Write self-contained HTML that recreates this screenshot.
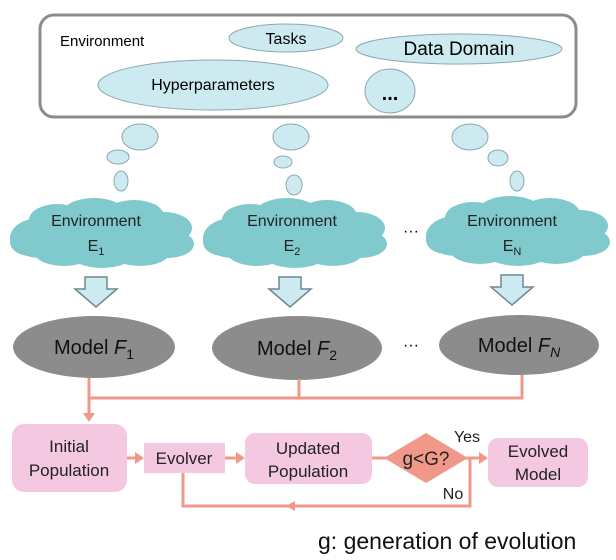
<!DOCTYPE html>
<html><head><meta charset="utf-8"><style>
html,body{margin:0;padding:0;background:#fff;}
svg{display:block;font-family:"Liberation Sans",Arial,sans-serif;}
</style></head><body>
<svg width="616" height="560" viewBox="0 0 616 560" xmlns="http://www.w3.org/2000/svg">
<defs>
<g id="cloud">
<ellipse cx="-62" cy="6" rx="30" ry="20"/>
<ellipse cx="-45" cy="-12" rx="28" ry="16"/>
<ellipse cx="-8" cy="-18" rx="32" ry="16"/>
<ellipse cx="32" cy="-16" rx="30" ry="16"/>
<ellipse cx="62" cy="-4" rx="28" ry="16"/>
<ellipse cx="66" cy="12" rx="26" ry="14"/>
<ellipse cx="38" cy="20" rx="30" ry="14"/>
<ellipse cx="0" cy="22" rx="32" ry="14"/>
<ellipse cx="-38" cy="20" rx="30" ry="14"/>
<ellipse cx="-72" cy="10" rx="20" ry="14"/>
<ellipse cx="0" cy="2" rx="80" ry="24"/>
</g>
</defs>
<rect x="40" y="15" width="536" height="102" rx="14" fill="#fff" stroke="#8c8c8c" stroke-width="3"/>
<text x="60" y="46" font-size="15">Environment</text>
<ellipse cx="286" cy="38" rx="57" ry="14" fill="#cdeaf0" stroke="#8aa8b0"/>
<text x="286" y="44" font-size="16" text-anchor="middle">Tasks</text>
<ellipse cx="459" cy="49" rx="103" ry="15" fill="#cdeaf0" stroke="#8aa8b0"/>
<text x="459" y="55" font-size="19" text-anchor="middle">Data Domain</text>
<ellipse cx="213" cy="85" rx="115" ry="25" fill="#cdeaf0" stroke="#8aa8b0"/>
<text x="213" y="90" font-size="16" text-anchor="middle">Hyperparameters</text>
<ellipse cx="390" cy="91" rx="25" ry="22" fill="#cdeaf0" stroke="#8aa8b0"/>
<text x="390" y="100" font-size="20" font-weight="bold" text-anchor="middle">...</text>
<g fill="#cdeaf0" stroke="#8aa8b0">
<ellipse cx="140" cy="137" rx="18" ry="13"/><ellipse cx="118" cy="157" rx="11" ry="7"/><ellipse cx="121" cy="181" rx="7" ry="10"/>
<ellipse cx="291" cy="137" rx="18" ry="13"/><ellipse cx="283" cy="162" rx="9" ry="6"/><ellipse cx="294" cy="185" rx="8" ry="10"/>
<ellipse cx="470" cy="137" rx="18" ry="13"/><ellipse cx="498" cy="158" rx="10" ry="8"/><ellipse cx="517" cy="181" rx="7" ry="10"/>
</g>
<g fill="#80cacd">
<use href="#cloud" transform="translate(102,232)"/>
<use href="#cloud" transform="translate(295,232)"/>
<use href="#cloud" transform="translate(518,230)"/>
</g>
<g font-size="16" text-anchor="middle" fill="#222">
<text x="96" y="226">Environment</text><text x="96" y="251">E<tspan font-size="11" dy="4">1</tspan></text>
<text x="292" y="226">Environment</text><text x="292" y="251">E<tspan font-size="11" dy="4">2</tspan></text>
<text x="512" y="226">Environment</text><text x="512" y="251">E<tspan font-size="11" dy="4">N</tspan></text>
</g>
<text x="411" y="236" font-size="16" text-anchor="middle">···</text>
<g fill="#cdeaf0" stroke="#6a8a90" stroke-width="1.5">
<path d="M85,277 h22 v12 h10 l-21,18 l-21,-18 h10 z"/>
<path d="M279,277 h22 v12 h10 l-21,18 l-21,-18 h10 z"/>
<path d="M501,275 h22 v12 h10 l-21,18 l-21,-18 h10 z"/>
</g>
<g fill="#8c8c8c">
<ellipse cx="94" cy="347" rx="81" ry="31"/>
<ellipse cx="297" cy="348" rx="85" ry="32"/>
<ellipse cx="519" cy="345" rx="80" ry="30"/>
</g>
<g font-size="20" text-anchor="middle" fill="#111">
<text x="94" y="354">Model <tspan font-style="italic">F</tspan><tspan font-size="14" dy="5">1</tspan></text>
<text x="297" y="355">Model <tspan font-style="italic">F</tspan><tspan font-size="14" dy="5">2</tspan></text>
<text x="519" y="352">Model <tspan font-style="italic">F</tspan><tspan font-size="14" font-style="italic" dy="5">N</tspan></text>
</g>
<text x="411" y="350" font-size="16" text-anchor="middle">···</text>
<g stroke="#f0998a" stroke-width="3" fill="none">
<path d="M89,378 V398 H522 V375"/>
<path d="M299,379 V398"/>
<path d="M89,398 V414"/>
<path d="M127,458 H136"/>
<path d="M225,458 H237"/>
<path d="M372,458 H386"/>
<path d="M466,458 H480"/>
<path d="M183,473 V506 H470 V458"/>
</g>
<g fill="#f0998a">
<path d="M83,413 L95,413 L89,422 z"/>
<path d="M135,452 L144,458 L135,464 z"/>
<path d="M236,452 L245,458 L236,464 z"/>
<path d="M479,452 L488,458 L479,464 z"/>
<path d="M295,501 L286,506 L295,511 z"/>
<path d="M384,458 L426,433 L468,458 L426,483 z"/>
</g>
<g fill="#f5c8e2">
<rect x="12" y="424" width="115" height="68" rx="12"/>
<rect x="144" y="443" width="81" height="30"/>
<rect x="245" y="433" width="127" height="51" rx="10"/>
<rect x="488" y="438" width="100" height="49" rx="10"/>
</g>
<g font-size="17" text-anchor="middle" fill="#222">
<text x="69" y="452">Initial</text><text x="69" y="476">Population</text>
<text x="184" y="464">Evolver</text>
<text x="308" y="454">Updated</text><text x="308" y="477">Population</text>
<text x="538" y="457">Evolved</text><text x="538" y="480">Model</text>
<text x="426" y="465" font-size="19">g&lt;G?</text>
<text x="467" y="442" font-size="16">Yes</text>
<text x="453" y="499" font-size="16">No</text>
</g>
<text x="318" y="549" font-size="23" fill="#111">g: generation of evolution</text>
</svg>
</body></html>
